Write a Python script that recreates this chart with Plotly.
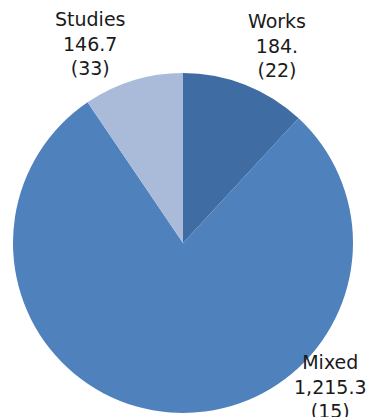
import plotly.graph_objects as go

# Slice data, clockwise from 12 o'clock
categories = ["Works", "Mixed", "Studies"]
values = [184.0, 1215.3, 146.7]
value_text = ["184.", "1,215.3", "146.7"]
counts = [22, 15, 33]
colors = ["#3f6ca3", "#4f81bd", "#aabad9"]

# Label anchor points (paper coordinates)
label_pos = {
    "Works": (277 / 366, 1 - 8 / 417),
    "Mixed": (330 / 366, 1 - 349 / 417),
    "Studies": (90 / 366, 1 - 6 / 417),
}

fig = go.Figure(
    go.Pie(
        labels=categories,
        values=values,
        sort=False,
        direction="clockwise",
        rotation=0,
        marker=dict(colors=colors, line=dict(width=0)),
        textinfo="none",
        hoverinfo="label+value",
        domain=dict(x=[13 / 366, 353 / 366], y=[4 / 417, 344 / 417]),
        showlegend=False,
    )
)

for cat, val, cnt in zip(categories, value_text, counts):
    x, y = label_pos[cat]
    fig.add_annotation(
        x=x, y=y, xref="paper", yref="paper",
        xanchor="center", yanchor="top",
        text=f"{cat}<br>{val}<br>({cnt})",
        showarrow=False,
        font=dict(family="DejaVu Sans", size=19, color="#1a1a1a"),
    )

fig.update_layout(
    width=366, height=417,
    margin=dict(l=0, r=0, t=0, b=0),
    paper_bgcolor="white",
    plot_bgcolor="white",
)

fig.write_html("out.html")
